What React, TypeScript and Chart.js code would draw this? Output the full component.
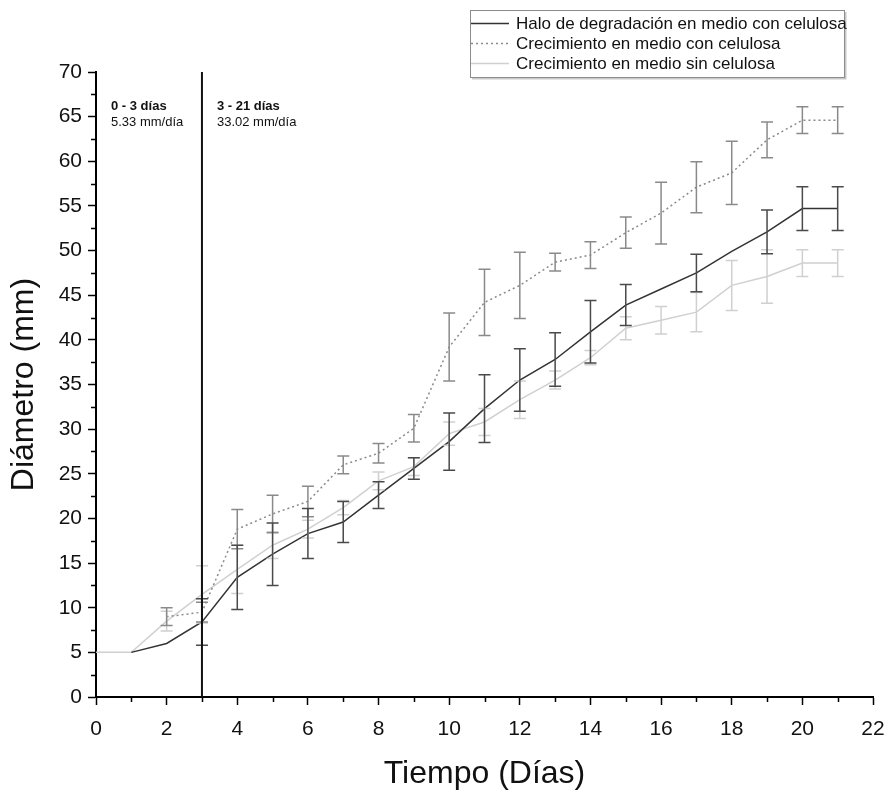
import React, { useEffect, useRef } from "react";
import { Chart, registerables } from "chart.js";

Chart.register(...registerables);

const days = [0, 1, 2, 3, 4, 5, 6, 7, 8, 9, 10, 11, 12, 13, 14, 15, 16, 17, 18, 19, 20, 21];

const haloMean = [null, 5.0, 6.0, 8.4, 13.4, 16.0, 18.3, 19.6, 22.6, 25.6, 28.6, 32.3, 35.5, 37.8, 40.9, 43.9, 45.7, 47.5, 49.9, 52.1, 54.7, 54.7];
const haloErr = [0, 0, 0, 2.6, 3.6, 3.5, 2.8, 2.3, 1.5, 1.2, 3.2, 3.8, 3.5, 3.0, 3.5, 2.3, 0, 2.1, 0, 2.45, 2.45, 2.45];

const conMean = [null, null, 9.0, 9.5, 18.8, 20.5, 21.9, 26.0, 27.3, 30.1, 39.2, 44.2, 46.1, 48.7, 49.5, 52.0, 54.2, 57.1, 58.7, 62.4, 64.6, 64.6];
const conErr = [0, 0, 1.0, 1.1, 2.2, 2.1, 1.7, 1.0, 1.1, 1.55, 3.8, 3.7, 3.7, 1.0, 1.5, 1.75, 3.45, 2.85, 3.55, 2.0, 1.5, 1.5];

const sinMean = [5.0, 5.0, 8.5, 11.5, 14.3, 17.0, 18.8, 21.2, 24.2, 25.8, 29.5, 30.8, 33.3, 35.5, 38.0, 41.3, 42.2, 43.1, 46.1, 47.1, 48.6, 48.6];
const sinErr = [0, 0, 1.1, 3.2, 2.7, 1.5, 1.0, 0.8, 1.0, 1.0, 1.3, 1.5, 2.1, 1.0, 0.8, 1.3, 1.55, 2.2, 2.8, 3.0, 1.5, 1.5];

const seriesNames = [
  "Halo de degradación en medio con celulosa",
  "Crecimiento en medio con celulosa",
  "Crecimiento en medio sin celulosa",
];

const phaseStarts = [0, 3];
const phaseTitles = ["0 - 3 días", "3 - 21 días"];
const phaseRates = ["5.33 mm/día", "33.02 mm/día"];
const splitDay = 3;

const xTitle = "Tiempo (Días)";
const yTitle = "Diámetro (mm)";
const xMin = 0, xMax = 22, xStep = 2, xMinorStep = 1;
const yMin = 0, yMax = 70, yStep = 5, yMinorStep = 2.5;

const FONT = "'Liberation Sans', Arial, Helvetica, sans-serif";

const toPoints = (vals: (number | null)[]) => days.map((d, i) => ({ x: d, y: vals[i] }));

const errorBarPlugin = {
  id: "errorBars",
  afterDatasetsDraw(chart: any) {
    const { ctx, scales } = chart;
    const x = scales.x, y = scales.y;
    const dsets = chart.data.datasets;
    for (let i = dsets.length - 1; i >= 0; i--) {
      const ds = dsets[i];
      const errs = ds.errors as number[];
      ctx.save();
      ctx.strokeStyle = ds.errorColor;
      ctx.lineWidth = 1.5;
      ctx.setLineDash([]);
      ds.data.forEach((p: any, j: number) => {
        if (p.y == null || !errs[j]) return;
        const px = x.getPixelForValue(p.x);
        const top = y.getPixelForValue(p.y + errs[j]);
        const bot = y.getPixelForValue(p.y - errs[j]);
        const hw = 6;
        ctx.beginPath();
        ctx.moveTo(px, top);
        ctx.lineTo(px, bot);
        ctx.moveTo(px - hw, top);
        ctx.lineTo(px + hw, top);
        ctx.moveTo(px - hw, bot);
        ctx.lineTo(px + hw, bot);
        ctx.stroke();
      });
      ctx.restore();
    }
  },
};

const decorPlugin = {
  id: "decor",
  afterDraw(chart: any) {
    const { ctx, scales, chartArea } = chart;
    const x = scales.x, y = scales.y;
    ctx.save();
    // minor ticks
    ctx.strokeStyle = "#000";
    ctx.lineWidth = 1.5;
    ctx.beginPath();
    for (let v = yMin + yMinorStep; v < yMax; v += yStep) {
      const py = Math.round(y.getPixelForValue(v)) + 0.5;
      ctx.moveTo(chartArea.left - 5, py);
      ctx.lineTo(chartArea.left, py);
    }
    for (let v = xMin + xMinorStep; v < xMax; v += xStep) {
      const px = Math.round(x.getPixelForValue(v)) + 0.5;
      ctx.moveTo(px, chartArea.bottom);
      ctx.lineTo(px, chartArea.bottom + 5);
    }
    ctx.stroke();

    // split line
    const sx = x.getPixelForValue(splitDay);
    ctx.lineWidth = 2;
    ctx.strokeStyle = "#111";
    ctx.beginPath();
    ctx.moveTo(sx, chartArea.top);
    ctx.lineTo(sx, chartArea.bottom);
    ctx.stroke();

    // phase annotations
    ctx.fillStyle = "#111";
    ctx.textBaseline = "middle";
    ctx.textAlign = "left";
    phaseStarts.forEach((s, i) => {
      const tx = x.getPixelForValue(s) + 15;
      ctx.font = `bold 13px ${FONT}`;
      ctx.fillText(phaseTitles[i], tx, chartArea.top + 34);
      ctx.font = `13px ${FONT}`;
      ctx.fillText(phaseRates[i], tx, chartArea.top + 50);
    });

    // legend box
    const bx = 470, by = 10, bw = 374, bh = 67;
    ctx.fillStyle = "#fff";
    ctx.fillRect(bx, by, bw, bh);
    ctx.strokeStyle = "#c8c8c8";
    ctx.lineWidth = 2;
    ctx.beginPath();
    ctx.moveTo(bx + 2, by + bh + 1.5);
    ctx.lineTo(bx + bw + 1.5, by + bh + 1.5);
    ctx.lineTo(bx + bw + 1.5, by + 2);
    ctx.stroke();
    ctx.strokeStyle = "#8c8c8c";
    ctx.lineWidth = 1;
    ctx.strokeRect(bx + 0.5, by + 0.5, bw, bh);
    chart.data.datasets.forEach((ds: any, i: number) => {
      const cy = by + 13 + i * 20;
      ctx.strokeStyle = ds.borderColor;
      ctx.lineWidth = ds.borderWidth;
      ctx.setLineDash(ds.borderDash || []);
      ctx.beginPath();
      ctx.moveTo(bx + 1, cy + 0.5);
      ctx.lineTo(bx + 39, cy + 0.5);
      ctx.stroke();
      ctx.setLineDash([]);
      ctx.fillStyle = "#111";
      ctx.font = `17px ${FONT}`;
      ctx.textAlign = "left";
      ctx.textBaseline = "middle";
      ctx.fillText(ds.label, bx + 46, cy + 1);
    });
    ctx.restore();
  },
};

export default function App() {
  const canvasRef = useRef<HTMLCanvasElement | null>(null);

  useEffect(() => {
    if (!canvasRef.current) return;
    const chart = new Chart(canvasRef.current, {
      type: "line",
      data: {
        datasets: [
          {
            label: seriesNames[0],
            data: toPoints(haloMean),
            borderColor: "#333333",
            borderWidth: 1.5,
            pointRadius: 0,
            tension: 0,
            errors: haloErr,
            errorColor: "#4a4a4a",
          } as any,
          {
            label: seriesNames[1],
            data: toPoints(conMean),
            borderColor: "#8a8a8a",
            borderWidth: 1.5,
            borderDash: [2, 3],
            pointRadius: 0,
            tension: 0,
            errors: conErr,
            errorColor: "#8a8a8a",
          } as any,
          {
            label: seriesNames[2],
            data: toPoints(sinMean),
            borderColor: "#d0d0d0",
            borderWidth: 1.5,
            pointRadius: 0,
            tension: 0,
            errors: sinErr,
            errorColor: "#d0d0d0",
          } as any,
        ],
      },
      options: {
        animation: false,
        responsive: true,
        maintainAspectRatio: false,
        layout: { padding: { top: 72, right: 16, left: 0, bottom: 0 } },
        plugins: {
          legend: { display: false },
          tooltip: { enabled: false },
        },
        scales: {
          x: {
            type: "linear",
            min: xMin,
            max: xMax,
            afterFit: (s: any) => { s.height = 96; s.paddingRight = 0; s.paddingLeft = 0; },
            ticks: { stepSize: xStep, color: "#111", font: { family: FONT, size: 21 }, padding: 12, maxRotation: 0 },
            grid: { drawOnChartArea: false, drawTicks: true, tickLength: 8, tickColor: "#000", tickWidth: 1.5 },
            border: { display: true, color: "#000", width: 2 },
            title: { display: true, text: xTitle, color: "#111", font: { family: FONT, size: 32 }, padding: { top: 0, bottom: 0 } },
          },
          y: {
            type: "linear",
            min: yMin,
            max: yMax,
            afterFit: (s: any) => { s.width = 96; },
            ticks: { stepSize: yStep, color: "#111", font: { family: FONT, size: 21 }, padding: 6 },
            grid: { drawOnChartArea: false, drawTicks: true, tickLength: 8, tickColor: "#000", tickWidth: 1.5 },
            border: { display: true, color: "#000", width: 2 },
            title: { display: true, text: yTitle, color: "#111", font: { family: FONT, size: 32 }, padding: { top: 5, bottom: 0 } },
          },
        },
      } as any,
      plugins: [errorBarPlugin, decorPlugin],
    });
    return () => chart.destroy();
  }, []);

  return (
    <div style={{ position: "absolute", left: 0, top: 0, width: 889, height: 793, background: "#fff" }}>
      <canvas ref={canvasRef} />
    </div>
  );
}
